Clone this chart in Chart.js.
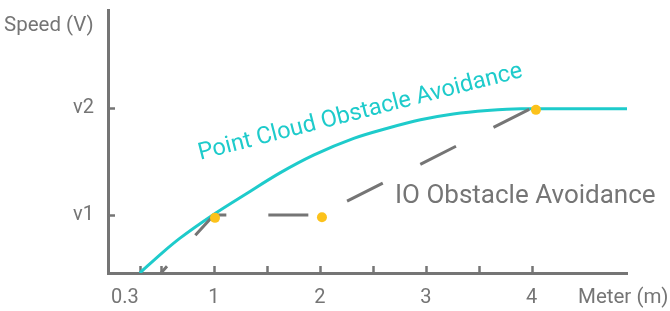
<!DOCTYPE html>
<html>
<head>
<meta charset="utf-8">
<script src="https://cdn.jsdelivr.net/npm/chart.js@4/dist/chart.umd.min.js"></script>
<style>
  html, body { margin: 0; padding: 0; background: #fff; }
  #wrap { width: 670px; height: 311px; position: relative; }
</style>
</head>
<body>
<div id="wrap"><canvas id="c"></canvas></div>
<script>
  var V2 = 2.84;

  /* ticks */
  var X_TICKS = [0.3, 0.5, 1, 1.5, 2, 2.5, 3, 3.5, 4];
  var X_LABELS = {0.3: '0.3', 1: '1', 2: '2', 3: '3', 4: '4'};
  var Y_TICKS = [1, V2];
  var Y_LABELS = ['v1', 'v2'];

  /* series */
  var CLOUD_X = [0.3, 0.52, 0.68, 0.99, 1.31, 1.62, 1.94, 2.32, 2.63, 2.95, 3.26, 3.58, 3.9, 4.02, 4.9];
  var CLOUD_Y = [0, 0.36, 0.6, 1.0, 1.37, 1.72, 2.03, 2.32, 2.49, 2.64, 2.74, 2.8, 2.83, 2.83, 2.83];
  var IO_X = [0.5, 1, 2, 4];
  var IO_Y = [0, 1, 1, V2];
  var DOT_X = [1.01, 2.02, 4.04];
  var DOT_Y = [0.95, 0.96, 2.81];

  var GRAY = '#757575', CYAN = '#1ECBCB', ORANGE = '#FCC21B';
  var FONT = 'Roboto, "Noto Sans", sans-serif';

  function pts(xs, ys) { return xs.map(function(x, i) { return {x: x, y: ys[i]}; }); }
  function noPad(s) { s.paddingTop = 0; s.paddingBottom = 0; s.paddingLeft = 0; s.paddingRight = 0; }

  var decor = {
    id: 'decor',
    beforeDatasetsDraw: function(chart) {
      var ctx = chart.ctx, xs = chart.scales.x, ys = chart.scales.y;
      ctx.save();
      ctx.strokeStyle = GRAY; ctx.lineWidth = 2.5;
      X_TICKS.forEach(function(v) {
        var px = Math.round(xs.getPixelForValue(v)) + 0.5;
        ctx.beginPath(); ctx.moveTo(px, ys.bottom); ctx.lineTo(px, ys.bottom - 7); ctx.stroke();
      });
      Y_TICKS.forEach(function(v) {
        var py = Math.round(ys.getPixelForValue(v)) + 0.5;
        ctx.beginPath(); ctx.moveTo(xs.left, py); ctx.lineTo(xs.left + 7, py); ctx.stroke();
      });
      ctx.restore();
    },
    afterDraw: function(chart) {
      var ctx = chart.ctx, xs = chart.scales.x, ys = chart.scales.y;
      ctx.save();
      ctx.fillStyle = GRAY;
      ctx.font = '20.5px ' + FONT;
      ctx.textBaseline = 'middle';
      ctx.textAlign = 'left';
      ctx.fillText('Speed (V)', 4, 26);
      ctx.fillText('Meter (m)', 578, 298);

      ctx.font = '26px ' + FONT;
      ctx.fillText('IO Obstacle Avoidance', xs.getPixelForValue(2.71), ys.getPixelForValue(1.31));

      ctx.fillStyle = CYAN;
      ctx.font = '23.5px ' + FONT;
      ctx.translate(xs.getPixelForValue(0.87), ys.getPixelForValue(1.95));
      ctx.rotate(-14.4 * Math.PI / 180);
      ctx.textBaseline = 'alphabetic';
      ctx.fillText('Point Cloud Obstacle Avoidance', 0, 0);
      ctx.restore();
    }
  };

  new Chart(document.getElementById('c'), {
    type: 'scatter',
    data: {
      datasets: [
        { data: pts(CLOUD_X, CLOUD_Y), showLine: true, borderColor: CYAN, borderWidth: 3,
          cubicInterpolationMode: 'monotone', pointRadius: 0, order: 3 },
        { data: pts(IO_X, IO_Y), showLine: true, borderColor: GRAY, borderWidth: 3,
          borderDash: [40, 42], borderDashOffset: 31, pointRadius: 0, order: 2 },
        { data: pts(DOT_X, DOT_Y), showLine: false, pointRadius: 5, pointBackgroundColor: ORANGE,
          pointBorderWidth: 0, order: 1 }
      ]
    },
    options: {
      responsive: true, maintainAspectRatio: false, animation: false,
      layout: { padding: { top: 10, right: 43, left: 0, bottom: 0 } },
      plugins: { legend: { display: false }, tooltip: { enabled: false } },
      scales: {
        x: {
          type: 'linear', min: 0, max: 4.9,
          afterBuildTicks: function(s) { s.ticks = X_TICKS.map(function(v) { return {value: v}; }); },
          afterFit: function(s) { s.height = 38; noPad(s); },
          grid: { display: false, drawTicks: false },
          border: { display: true, color: GRAY, width: 3 },
          ticks: { color: GRAY, font: { size: 20, family: FONT }, padding: 13, maxRotation: 0, autoSkip: false,
            callback: function(v) { return X_LABELS[v] === '0.3' ? '0.3      ' : (X_LABELS[v] || ''); } }
        },
        y: {
          type: 'linear', min: 0, max: 4.53,
          afterBuildTicks: function(s) { s.ticks = Y_TICKS.map(function(v) { return {value: v}; }); },
          afterFit: function(s) { s.width = 108; noPad(s); },
          grid: { display: false, drawTicks: false },
          border: { display: true, color: GRAY, width: 3 },
          ticks: { color: GRAY, font: { size: 20, family: FONT }, padding: 14,
            callback: function(v, i) { return Y_LABELS[i]; } }
        }
      }
    },
    plugins: [decor]
  });
</script>
</body>
</html>
